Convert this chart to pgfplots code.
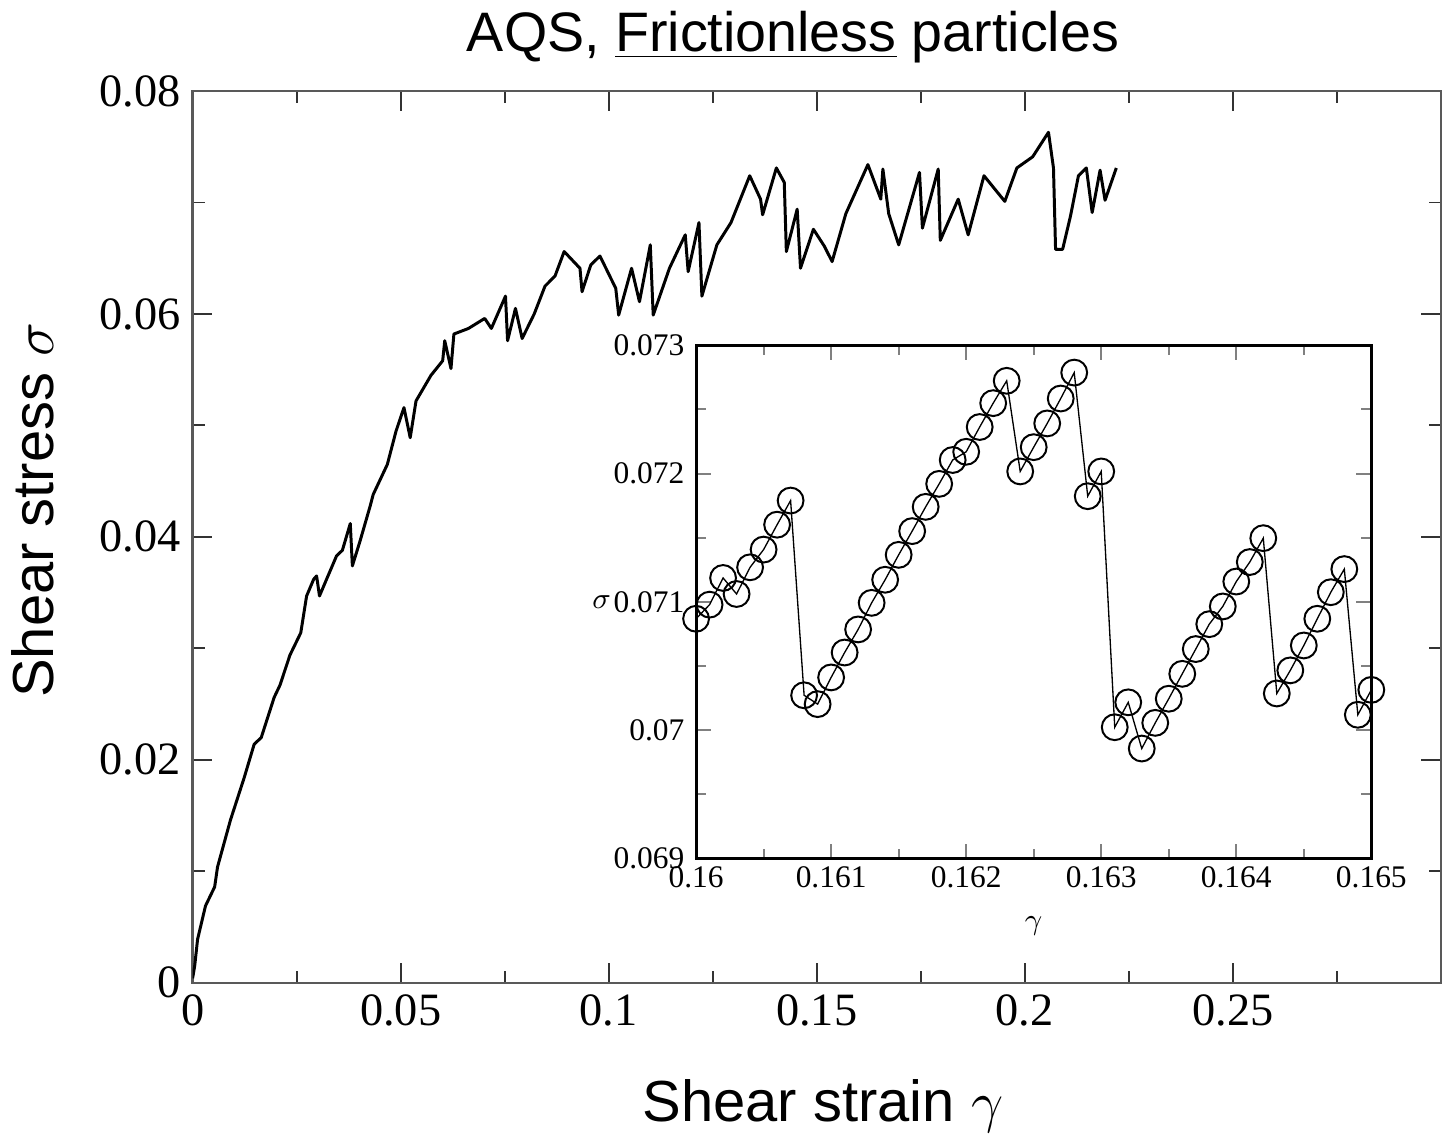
\documentclass[border=0pt]{standalone}
\usepackage{fontspec}
\setmainfont{Liberation Serif}
\setsansfont{Liberation Sans}
\usepackage{pgfplots}
\pgfplotsset{compat=1.18}

\begin{document}
\begin{tikzpicture}
  % main stress-strain curve
  \begin{axis}[
    scale only axis,
    width=377.1pt, height=269.4pt,
    xmin=0, xmax=0.3, ymin=0, ymax=0.08,
    xtick={0,0.05,0.1,0.15,0.2,0.25},
    minor xtick={0.025,0.075,0.125,0.175,0.225,0.275},
    ytick={0,0.02,0.04,0.06,0.08},
    minor ytick={0.01,0.03,0.05,0.07},
    tick align=inside,
    major tick length=6pt, minor tick length=3.6pt,
    scaled ticks=false,
    /pgf/number format/fixed,
    /pgf/number format/precision=3,
    /pgf/number format/assume math mode=true,
    tick label style={font=\fontsize{14}{14}\selectfont},
    axis line style={line width=0.7pt, black!65},
    tick style={line width=0.6pt, black!80},
    title={\sffamily AQS, \underline{Frictionless} particles},
    title style={at={(axis description cs:0.481,1)}, anchor=base, yshift=6pt,
      font=\fontsize{16.8}{17}\selectfont},
    xlabel={\sffamily Shear strain $\gamma$},
    xlabel style={at={(axis description cs:0.505,-0.156)}, anchor=base,
      font=\fontsize{17.5}{18}\selectfont},
    ylabel={\sffamily Shear stress $\sigma$},
    ylabel style={at={(axis description cs:-0.102,0.53)}, anchor=south,
      font=\fontsize{17.5}{18}\selectfont},
  ]
    \addplot[black, line width=0.9pt, line join=round] coordinates {
      (0,0.0004) (0.0005,0.0015) (0.0012,0.0039) (0.0031,0.0069) (0.0053,0.0086)
      (0.0060,0.0104) (0.0091,0.0146) (0.0124,0.0184) (0.0148,0.0214) (0.0165,0.0220)
      (0.0196,0.0256) (0.0210,0.0267) (0.0234,0.0294) (0.0260,0.0314) (0.0274,0.0347)
      (0.0291,0.0362) (0.0298,0.0365) (0.0305,0.0347) (0.0322,0.0362) (0.0346,0.0383)
      (0.0360,0.0388) (0.0379,0.0412) (0.0384,0.0374) (0.0403,0.0397) (0.0427,0.0428)
      (0.0434,0.0438) (0.0468,0.0465) (0.0489,0.0495) (0.0508,0.0516) (0.0523,0.0489)
      (0.0537,0.0522) (0.0573,0.0545) (0.0601,0.0558) (0.0606,0.0576) (0.0621,0.0551)
      (0.0628,0.0582) (0.0663,0.0587) (0.0702,0.0596) (0.0718,0.0587) (0.0752,0.0616)
      (0.0757,0.0576) (0.0776,0.0605) (0.0792,0.0578) (0.0821,0.0600) (0.0847,0.0625)
      (0.0871,0.0634) (0.0893,0.0656) (0.0931,0.0641) (0.0936,0.0620) (0.0957,0.0644)
      (0.0979,0.0652) (0.1017,0.0623) (0.1024,0.0599) (0.1055,0.0641) (0.1074,0.0611)
      (0.1100,0.0662) (0.1107,0.0599) (0.1146,0.0641) (0.1184,0.0671) (0.1191,0.0638)
      (0.1217,0.0682) (0.1224,0.0616) (0.1260,0.0662) (0.1294,0.0682) (0.1339,0.0724)
      (0.1365,0.0703) (0.1370,0.0689) (0.1403,0.0731) (0.1422,0.0718) (0.1427,0.0656)
      (0.1453,0.0694) (0.1461,0.0641) (0.1492,0.0676) (0.1518,0.0661) (0.1537,0.0647)
      (0.1570,0.0690) (0.1623,0.0734) (0.1654,0.0703) (0.1659,0.0730) (0.1673,0.0690)
      (0.1697,0.0662) (0.1747,0.0727) (0.1754,0.0677) (0.1792,0.0730) (0.1797,0.0666)
      (0.1840,0.0703) (0.1864,0.0671) (0.1902,0.0724) (0.1952,0.0701) (0.1981,0.0731)
      (0.2019,0.0741) (0.2057,0.0763) (0.2069,0.0731) (0.2074,0.0658) (0.2091,0.0658)
      (0.2110,0.0688) (0.2129,0.0724) (0.2148,0.0731) (0.2162,0.0691) (0.2181,0.0729)
      (0.2193,0.0702) (0.2220,0.0731)
    };
  \end{axis}

  % inset: zoom on 0.160 < gamma < 0.165
  \begin{axis}[
    at={(152.1pt,37.5pt)}, anchor=south west,
    scale only axis,
    width=204pt, height=155.1pt,
    xmin=0.16, xmax=0.165, ymin=0.069, ymax=0.073,
    xtick={0.16,0.161,0.162,0.163,0.164,0.165},
    ytick={0.069,0.07,0.071,0.072,0.073},
    minor x tick num=1, minor y tick num=1,
    tick align=inside,
    major tick length=4.5pt, minor tick length=3pt,
    scaled ticks=false,
    /pgf/number format/fixed,
    /pgf/number format/precision=3,
    /pgf/number format/assume math mode=true,
    tick label style={font=\fontsize{9.5}{9.5}\selectfont},
    xticklabel style={yshift=1pt},
    axis background/.style={fill=white},
    axis line style={line width=0.9pt},
    tick style={line width=0.6pt},
    xlabel={$\gamma$},
    xlabel style={at={(axis description cs:0.5,-0.09)}, anchor=north,
      font=\fontsize{9}{9}\selectfont},
    ylabel={$\sigma$},
    ylabel style={at={(axis description cs:-0.14,0.5)}, anchor=center, rotate=-90,
      font=\fontsize{9}{9}\selectfont},
  ]
    \addplot[black, line width=0.4pt, mark=o, mark size=3.9pt,
      mark options={line width=0.6pt}] coordinates {
      (0.1600,0.070869) (0.1601,0.070979) (0.1602,0.071187) (0.1603,0.071062)
      (0.1604,0.071270) (0.1605,0.071408) (0.1606,0.071602) (0.1607,0.071790)
      (0.1608,0.070273) (0.1609,0.070204) (0.1610,0.070412) (0.1611,0.070606)
      (0.1612,0.070786) (0.1613,0.070993) (0.1614,0.071173) (0.1615,0.071367)
      (0.1616,0.071552) (0.1617,0.071741) (0.1618,0.071920) (0.1619,0.072106)
      (0.1620,0.072170) (0.1621,0.072363) (0.1622,0.072549) (0.1623,0.072723)
      (0.1624,0.072017) (0.1625,0.072206) (0.1626,0.072391) (0.1627,0.072585)
      (0.1628,0.072787) (0.1629,0.071824) (0.1630,0.072017) (0.1631,0.070024)
      (0.1632,0.070218) (0.1633,0.069858) (0.1634,0.070058) (0.1635,0.070246)
      (0.1636,0.070440) (0.1637,0.070633) (0.1638,0.070827) (0.1639,0.070965)
      (0.1640,0.071159) (0.1641,0.071311) (0.1642,0.071497) (0.1643,0.070287)
      (0.1644,0.070467) (0.1645,0.070661) (0.1646,0.070869) (0.1647,0.071076)
      (0.1648,0.071256) (0.1649,0.070121) (0.1650,0.070315)
    };
  \end{axis}
\end{tikzpicture}
\end{document}
